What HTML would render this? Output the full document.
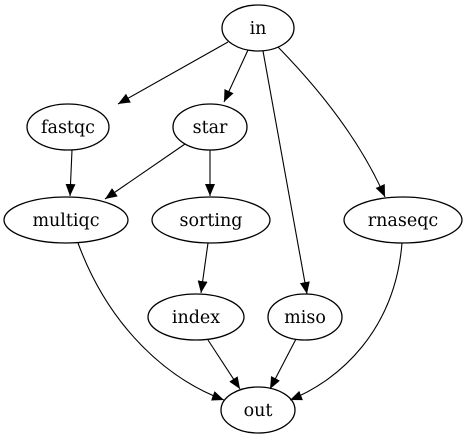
<!DOCTYPE html>
<html><head><style>body{margin:0;background:#fff}</style></head><body>
<svg width="475" height="443" viewBox="0 0 475 443" xmlns="http://www.w3.org/2000/svg" font-family="DejaVu Serif, serif" font-size="17.5">
<defs><marker id="a" viewBox="0 0 12 12" refX="12" refY="6" markerWidth="12" markerHeight="12" markerUnits="userSpaceOnUse" orient="auto"><path d="M0,1 L12,6 L0,11 z" fill="#000"/></marker></defs>
<g fill="none" stroke="#000" stroke-width="1.3">
<ellipse cx="258" cy="28" rx="36" ry="23"/>
<ellipse cx="68" cy="127" rx="41" ry="23"/>
<ellipse cx="210" cy="127" rx="37" ry="23"/>
<ellipse cx="66" cy="220" rx="62" ry="23"/>
<ellipse cx="211" cy="220" rx="59" ry="23"/>
<ellipse cx="403" cy="220" rx="59" ry="23"/>
<ellipse cx="196" cy="317" rx="48" ry="23"/>
<ellipse cx="305" cy="317" rx="37" ry="23"/>
<ellipse cx="258" cy="410" rx="37" ry="23"/>
</g>
<g fill="none" stroke="#000" stroke-width="1.1" marker-end="url(#a)">
<path d="M228,42 L118,104"/>
<path d="M248,50 L224,102"/>
<path d="M263,51 L307,294"/>
<path d="M278,47 C320,90 360,140 385,197"/>
<path d="M72,150 L70,196"/>
<path d="M185,144 L105,199"/>
<path d="M210,150 L210,196"/>
<path d="M208,243 L201,293"/>
<path d="M78,243 C110,330 170,380 224,400"/>
<path d="M208,340 L240,389"/>
<path d="M296,339 L270,389"/>
<path d="M402,243 C395,330 340,380 290,400"/>
</g>
<g text-anchor="middle">
<text x="258" y="34">in</text>
<text x="68" y="133">fastqc</text>
<text x="210" y="133">star</text>
<text x="66" y="226">multiqc</text>
<text x="211" y="226">sorting</text>
<text x="403" y="226">rnaseqc</text>
<text x="196" y="323">index</text>
<text x="305" y="323">miso</text>
<text x="258" y="416">out</text>
</g>
</svg>
</body></html>
